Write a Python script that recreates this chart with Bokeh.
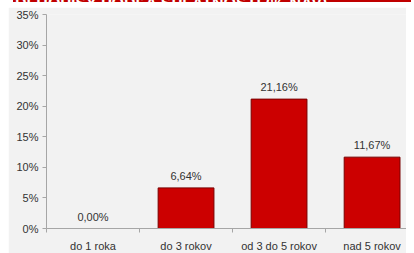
from bokeh.plotting import figure
from bokeh.models import ColumnDataSource, FixedTicker, PrintfTickFormatter, Range1d, Div
from bokeh.layouts import column
from bokeh.core.properties import value
from bokeh.embed import file_html
from bokeh.resources import INLINE

title_text = "DLHOPISY PODĽA SPLATNOSTI (% NAV)"
categories = ["do 1 roka", "do 3 rokov", "od 3 do 5 rokov", "nad 5 rokov"]
values = [0.00, 6.64, 21.16, 11.67]
y_ticks = [0, 5, 10, 15, 20, 25, 30, 35]

xs = [i + 0.5 for i in range(len(categories))]
labels = [("%.2f" % v).replace(".", ",") + "%" for v in values]
src = ColumnDataSource(dict(x=xs, top=values, label=labels))

FONT = "Liberation Sans"
TXT = "#333333"
AX = "#a6a6a6"

p = figure(width=398, height=247, output_backend="svg", toolbar_location=None,
           x_range=Range1d(0, 3.87), y_range=Range1d(0, 35),
           min_border_left=38, min_border_right=0, min_border_top=7, min_border_bottom=23)
p.background_fill_color = "#f2f2f2"
p.border_fill_color = "#f2f2f2"
p.outline_line_color = None
p.xgrid.grid_line_color = None
p.ygrid.grid_line_color = None

p.vbar(x="x", top="top", width=0.6, bottom=0, source=src,
       fill_color="#cc0000", line_color="#7a0000", line_width=1)
p.text(x="x", y="top", text="label", source=src, text_align="center",
       text_baseline="bottom", y_offset=-6, text_font=value(FONT),
       text_font_size="11px", text_color=TXT)

xa = p.xaxis[0]
xa.ticker = FixedTicker(ticks=xs, minor_ticks=list(range(len(categories) + 1)))
xa.major_label_overrides = {x: c for x, c in zip(xs, categories)}
xa.major_tick_out = 0
xa.major_tick_in = 0
xa.minor_tick_out = 4
xa.minor_tick_in = 0
xa.minor_tick_line_color = AX
xa.axis_line_color = AX
xa.major_label_standoff = 7
xa.major_label_text_font = FONT
xa.major_label_text_font_size = "11px"
xa.major_label_text_color = TXT

ya = p.yaxis[0]
ya.ticker = FixedTicker(ticks=y_ticks)
ya.formatter = PrintfTickFormatter(format="%d%%")
ya.major_tick_out = 4
ya.major_tick_in = 0
ya.minor_tick_line_color = None
ya.major_tick_line_color = AX
ya.axis_line_color = AX
ya.major_label_standoff = 4
ya.major_label_text_font = FONT
ya.major_label_text_font_size = "11px"
ya.major_label_text_color = TXT

banner = Div(text='<div style="font:bold 16px \'Liberation Sans\',Arial,sans-serif;color:#ffffff;'
                  'white-space:nowrap;margin-top:-10px;padding-left:2px;line-height:16px">'
                  + title_text + '</div>',
             width=398, height=5,
             styles={"background-color": "#c00000", "overflow": "hidden"})

layout = column(banner, p, spacing=0, margin=(-8, 0, 0, 8))

open("out.html", "w").write(file_html(layout, INLINE))
